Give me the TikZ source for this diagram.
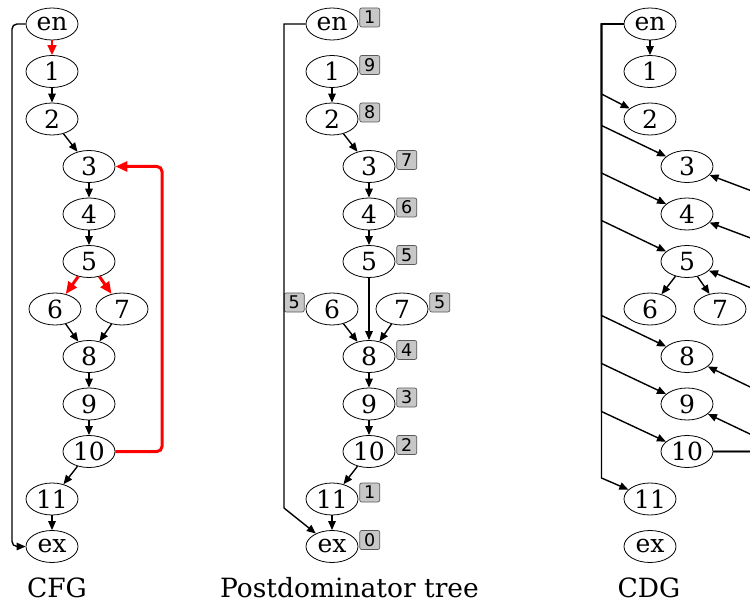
\documentclass[tikz,border=0pt]{standalone}
\usepackage{fontspec}
\setmainfont{DejaVu Serif}
\newfontfamily\boxfont{DejaVu Sans}
\usetikzlibrary{shapes.geometric,arrows.meta}
\tikzset{
  nd/.style={ellipse, draw, line width=0.8pt, minimum width=52pt, minimum height=32pt,
    inner sep=0pt, font=\fontsize{25}{30}\selectfont},
  edge/.style={line width=1.4pt, -{Triangle[length=9pt,width=7.5pt]}},
  thinred/.style={red, line width=1.6pt, -{Triangle[length=10pt,width=9pt]}},
  rededge/.style={red, line width=3pt, -{Triangle[length=12pt,width=10pt]}},
  numbox/.style={draw=black!65, fill=black!22, rounded corners=2pt, line width=0.7pt,
    minimum width=20pt, minimum height=19pt, inner sep=0pt,
    font=\boxfont\fontsize{17.5}{17.5}\selectfont},
  captext/.style={font=\fontsize{26.5}{30}\selectfont, inner sep=0pt},
}
\begin{document}
\begin{tikzpicture}[x=1pt,y=-1pt]
\useasboundingbox (0,0) rectangle (750,604);
\clip (0,0) rectangle (750,604);
% ---------------- CFG ----------------
\node[nd] (cen) at (52,24) {en};
\node[nd] (c1) at (52,71.5) {1};
\node[nd] (c2) at (52,119) {2};
\node[nd] (c3) at (89,166.5) {3};
\node[nd] (c4) at (89,214) {4};
\node[nd] (c5) at (89,261.5) {5};
\node[nd] (c6) at (55,309) {6};
\node[nd] (c7) at (122,309) {7};
\node[nd] (c8) at (89,356.5) {8};
\node[nd] (c9) at (89,404) {9};
\node[nd] (c10) at (89,451.5) {10};
\node[nd] (c11) at (52,499) {11};
\node[nd] (cex) at (52,546.5) {ex};
\node[captext] (ccap) at (57,588) {CFG};
\coordinate (cLt) at (12,24);
\coordinate (cLb) at (12,546.5);
\coordinate (cRb) at (162,451.5);
\coordinate (cRt) at (162,166.5);
\draw[thinred] (cen) -- (c1);
\draw[edge] (c1) -- (c2);
\draw[edge] (c2) -- (c3);
\draw[edge] (c3) -- (c4);
\draw[edge] (c4) -- (c5);
\draw[rededge] (c5) -- (c6);
\draw[rededge] (c5) -- (c7);
\draw[edge] (c6) -- (c8);
\draw[edge] (c7) -- (c8);
\draw[edge] (c8) -- (c9);
\draw[edge] (c9) -- (c10);
\draw[edge] (c10) -- (c11);
\draw[edge] (c11) -- (cex);
\draw[rededge, rounded corners=5pt] (c10.east) -- (cRb) -- (cRt) -- (c3.east);
\draw[edge, rounded corners=5pt] (cen.west) -- (cLt) -- (cLb) -- (cex.west);
% ---------------- Postdominator tree ----------------
\node[nd] (pen) at (332,24) {en};
\node[nd] (p1) at (332,71.5) {1};
\node[nd] (p2) at (332,119) {2};
\node[nd] (p3) at (369,166.5) {3};
\node[nd] (p4) at (369,214) {4};
\node[nd] (p5) at (369,261.5) {5};
\node[nd] (p6) at (332,309) {6};
\node[nd] (p7) at (402,309) {7};
\node[nd] (p8) at (369,356.5) {8};
\node[nd] (p9) at (369,404) {9};
\node[nd] (p10) at (369,451.5) {10};
\node[nd] (p11) at (332,499) {11};
\node[nd] (pex) at (332,546.5) {ex};
\node[captext] (pcap) at (349.5,588) {Postdominator tree};
\node[numbox, anchor=west] (bpen) at ([xshift=1pt,yshift=6.5pt]pen.east) {1};
\node[numbox, anchor=west] (bp1) at ([xshift=1pt,yshift=6.5pt]p1.east) {9};
\node[numbox, anchor=west] (bp2) at ([xshift=1pt,yshift=6.5pt]p2.east) {8};
\node[numbox, anchor=west] (bp3) at ([xshift=1pt,yshift=6.5pt]p3.east) {7};
\node[numbox, anchor=west] (bp4) at ([xshift=1pt,yshift=6.5pt]p4.east) {6};
\node[numbox, anchor=west] (bp5) at ([xshift=1pt,yshift=6.5pt]p5.east) {5};
\node[numbox, anchor=east] (bp6) at ([xshift=-1pt,yshift=6.5pt]p6.west) {5};
\node[numbox, anchor=west] (bp7) at ([xshift=1pt,yshift=6.5pt]p7.east) {5};
\node[numbox, anchor=west] (bp8) at ([xshift=1pt,yshift=6.5pt]p8.east) {4};
\node[numbox, anchor=west] (bp9) at ([xshift=1pt,yshift=6.5pt]p9.east) {3};
\node[numbox, anchor=west] (bp10) at ([xshift=1pt,yshift=6.5pt]p10.east) {2};
\node[numbox, anchor=west] (bp11) at ([xshift=1pt,yshift=6.5pt]p11.east) {1};
\node[numbox, anchor=west] (bpex) at ([xshift=1pt,yshift=6.5pt]pex.east) {0};
\coordinate (pLt) at (284,24);
\coordinate (pLb) at (284,508);
\draw[edge] (p1) -- (p2);
\draw[edge] (p2) -- (p3);
\draw[edge] (p3) -- (p4);
\draw[edge] (p4) -- (p5);
\draw[edge] (p5) -- (p8);
\draw[edge] (p6) -- (p8);
\draw[edge] (p7) -- (p8);
\draw[edge] (p8) -- (p9);
\draw[edge] (p9) -- (p10);
\draw[edge] (p10) -- (p11);
\draw[edge] (p11) -- (pex);
\draw[edge] (pen.west) -- (pLt) -- (pLb) -- (pex);
% ---------------- CDG ----------------
\node[nd] (den) at (650,24) {en};
\node[nd] (d1) at (650,71.5) {1};
\node[nd] (d2) at (650,119) {2};
\node[nd] (d3) at (687,166.5) {3};
\node[nd] (d4) at (687,214) {4};
\node[nd] (d5) at (687,261.5) {5};
\node[nd] (d6) at (650,309) {6};
\node[nd] (d7) at (720,309) {7};
\node[nd] (d8) at (687,356.5) {8};
\node[nd] (d9) at (687,404) {9};
\node[nd] (d10) at (687,451.5) {10};
\node[nd] (d11) at (650,499) {11};
\node[nd] (dex) at (650,546.5) {ex};
\node[captext] (dcap) at (649,588) {CDG};
\draw[edge] (den) -- (d1);
\draw[edge] (d5) -- (d6);
\draw[edge] (d5) -- (d7);
\coordinate (dL) at (601.5,24);
\coordinate (dL2) at (601.5,94);
\coordinate (dL3) at (601.5,125.5);
\coordinate (dL4) at (601.5,173);
\coordinate (dL5) at (601.5,220.5);
\coordinate (dL8) at (601.5,315.5);
\coordinate (dL9) at (601.5,363.5);
\coordinate (dL10) at (601.5,411.5);
\coordinate (dL11) at (601.5,478);
\draw[edge] (den.west) -- (dL) -- (dL2) -- (d2);
\draw[edge] (den.west) -- (dL) -- (dL3) -- (d3);
\draw[edge] (den.west) -- (dL) -- (dL4) -- (d4);
\draw[edge] (den.west) -- (dL) -- (dL5) -- (d5);
\draw[edge] (den.west) -- (dL) -- (dL8) -- (d8);
\draw[edge] (den.west) -- (dL) -- (dL9) -- (d9);
\draw[edge] (den.west) -- (dL) -- (dL10) -- (d10);
\draw[edge] (den.west) -- (dL) -- (dL11) -- (d11);
\coordinate (dR) at (773,451.5);
\coordinate (dR3) at (773,199);
\coordinate (dR4) at (773,246.5);
\coordinate (dR5) at (773,297);
\coordinate (dR8) at (773,398);
\coordinate (dR9) at (773,445);
\draw[edge] (d10.east) -- (dR) -- (dR3) -- (d3);
\draw[edge] (d10.east) -- (dR) -- (dR4) -- (d4);
\draw[edge] (d10.east) -- (dR) -- (dR5) -- (d5);
\draw[edge] (d10.east) -- (dR) -- (dR8) -- (d8);
\draw[edge] (d10.east) -- (dR) -- (dR9) -- (d9);
\end{tikzpicture}
\end{document}
